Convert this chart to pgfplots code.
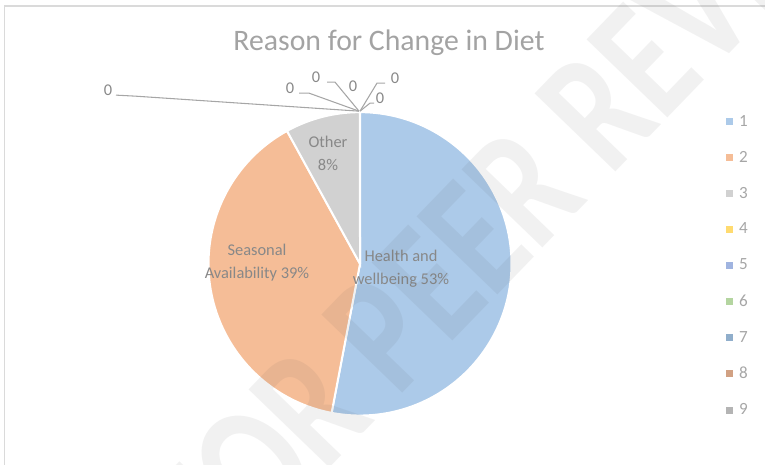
\documentclass[border=0pt]{standalone}
\usepackage{fontspec}
\setmainfont{Carlito}
\usepackage{pgfplots}
\usepackage{pgfplotstable}
\pgfplotsset{compat=1.18}

\definecolor{s1}{HTML}{ACCAE9}
\definecolor{s2}{HTML}{F5BD97}
\definecolor{s3}{HTML}{D1D1D1}
\definecolor{s4}{HTML}{FFDB70}
\definecolor{s5}{HTML}{A0B4E0}
\definecolor{s6}{HTML}{B4D5A0}
\definecolor{s7}{HTML}{90AECB}
\definecolor{s8}{HTML}{D1A183}
\definecolor{s9}{HTML}{B4B4B4}
\definecolor{titletxt}{HTML}{A3A3A3}
\definecolor{labtxt}{HTML}{888888}
\definecolor{legtxt}{HTML}{A6A6A6}
\definecolor{leader}{HTML}{A6A6A6}
\definecolor{frame}{HTML}{DADADA}
\definecolor{wm}{HTML}{505050}

% share of each reason (slices 4-9 are empty)
\pgfplotstableread{
slice value
1 53
2 39
3 8
4 0
5 0
6 0
7 0
8 0
9 0
}\piedata

\pgfplotstablegetelem{0}{value}\of\piedata \let\va\pgfplotsretval
\pgfplotstablegetelem{1}{value}\of\piedata \let\vb\pgfplotsretval
\pgfplotstablegetelem{2}{value}\of\piedata \let\vc\pgfplotsretval
\pgfmathsetmacro\total{\va+\vb+\vc}
\pgfmathsetmacro\aA{90-\va/\total*360}
\pgfmathsetmacro\aB{\aA-\vb/\total*360}
\pgfmathsetmacro\aC{\aB-\vc/\total*360}

\def\cx{360}
\def\cy{200.5}
\def\rr{151.5}

\begin{document}
\begin{tikzpicture}
\begin{axis}[
  width=573.75pt, height=348pt, scale only axis,
  xmin=0, xmax=765, ymin=0, ymax=464,
  hide axis, clip=false,
  legend style={draw=none, fill=none, text=legtxt,
    font=\fontsize{12.8}{15}\selectfont,
    at={(axis cs:722,352)}, anchor=north west,
    row sep=17.2pt, nodes={inner sep=0pt},
    /tikz/every odd column/.append style={column sep=4.5pt}},
  legend cell align=left,
  legend image code/.code={\path[fill, draw=none] (0pt,-2.6pt) rectangle (5.2pt,2.6pt);},
]
\addplot[fill=s1, draw=white, line width=1.5pt, domain=\aA:90, samples=100, variable=\t, forget plot]
  ({\cx+\rr*cos(\t)}, {\cy+\rr*sin(\t)}) -- (axis cs:\cx,\cy) -- cycle;
\addplot[fill=s2, draw=white, line width=1.5pt, domain=\aB:\aA, samples=80, variable=\t, forget plot]
  ({\cx+\rr*cos(\t)}, {\cy+\rr*sin(\t)}) -- (axis cs:\cx,\cy) -- cycle;
\addplot[fill=s3, draw=white, line width=1.5pt, domain=\aC:\aB, samples=20, variable=\t, forget plot]
  ({\cx+\rr*cos(\t)}, {\cy+\rr*sin(\t)}) -- (axis cs:\cx,\cy) -- cycle;

% leader lines of the empty slices
\addplot[leader, line width=0.8pt, forget plot] coordinates {(116,369) (135,368) (359,353)};
\addplot[leader, line width=0.8pt, forget plot] coordinates {(299,371) (309,371) (359,353)};
\addplot[leader, line width=0.8pt, forget plot] coordinates {(327,382) (335,382) (359,353)};
\addplot[leader, line width=0.8pt, forget plot] coordinates {(385,381) (377,381) (360,353)};
\addplot[leader, line width=0.8pt, forget plot] coordinates {(374,361) (370,361) (360,353)};

\addlegendimage{fill=s1}\addlegendentry{1}
\addlegendimage{fill=s2}\addlegendentry{2}
\addlegendimage{fill=s3}\addlegendentry{3}
\addlegendimage{fill=s4}\addlegendentry{4}
\addlegendimage{fill=s5}\addlegendentry{5}
\addlegendimage{fill=s6}\addlegendentry{6}
\addlegendimage{fill=s7}\addlegendentry{7}
\addlegendimage{fill=s8}\addlegendentry{8}
\addlegendimage{fill=s9}\addlegendentry{9}

\draw[frame, line width=1.1pt] (axis cs:4.5,0) -- (axis cs:4.5,458) -- (axis cs:765,458);

\node[font=\fontsize{22.3}{26}\selectfont, text=titletxt] at (axis cs:389,421) {Reason for Change in Diet};

\begin{scope}[font=\fontsize{12.3}{17.25}\selectfont, text=labtxt, align=center]
\node at (axis cs:401,196) {Health and\\wellbeing 53\%};
\node at (axis cs:257,202) {Seasonal\\Availability 39\%};
\node at (axis cs:328,311) {Other\\8\%};
\node at (axis cs:108,374) {0};
\node at (axis cs:290,376) {0};
\node at (axis cs:316,387) {0};
\node at (axis cs:353,378) {0};
\node at (axis cs:395,386) {0};
\node at (axis cs:380,366) {0};
\end{scope}

\coordinate (bl) at (axis cs:0,0);
\coordinate (tr) at (axis cs:765,464);
\coordinate (wmc) at (axis cs:528,282);
\end{axis}
\begin{scope}
\clip (bl) rectangle (tr);
\node[rotate=46, yscale=1.3, transform shape, text=wm, text opacity=0.08,
  font=\bfseries\fontsize{100}{100}\selectfont] at (wmc) {FOR PEER REVIEW};
\end{scope}
\pgfresetboundingbox
\useasboundingbox (bl) rectangle (tr);
\end{tikzpicture}
\end{document}
